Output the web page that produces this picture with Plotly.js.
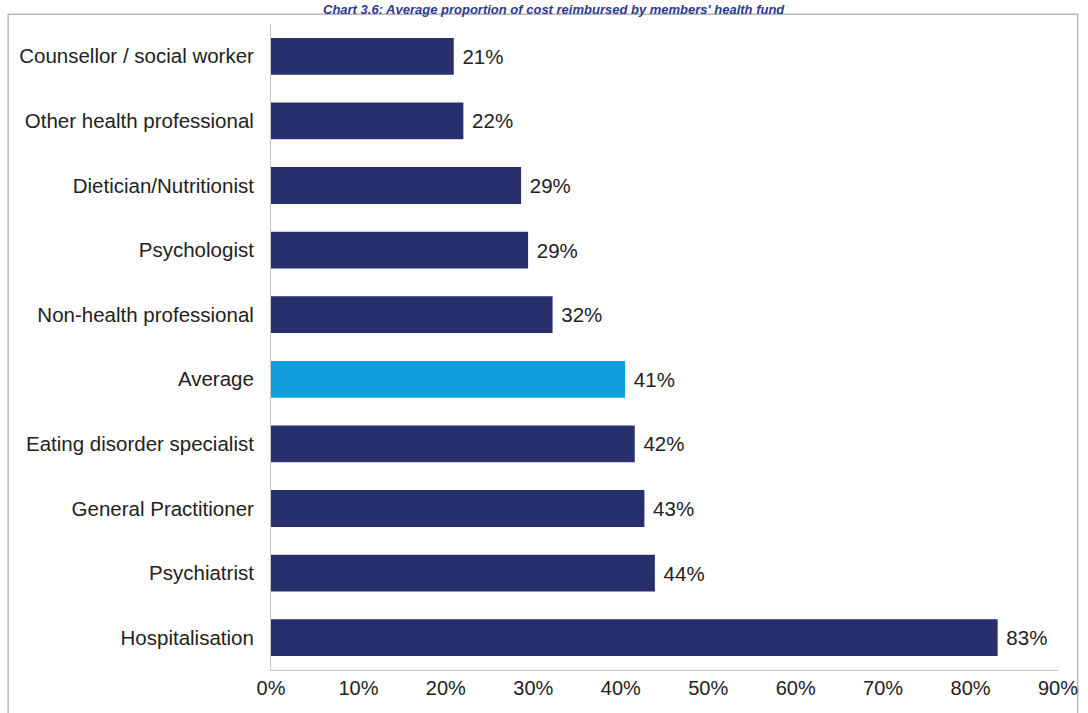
<!DOCTYPE html>
<html><head><meta charset="utf-8">
<script src="https://cdn.plot.ly/plotly-3.0.1.min.js"></script>
<style>html,body{margin:0;padding:0;background:#fff;}#chart{width:1088px;height:713px;}</style>
</head><body><div id="chart"></div>
<script>
const categories = ["Counsellor / social worker","Other health professional","Dietician/Nutritionist","Psychologist","Non-health professional","Average","Eating disorder specialist","General Practitioner","Psychiatrist","Hospitalisation"];
const values = [0.209,0.22,0.286,0.294,0.322,0.405,0.416,0.427,0.439,0.831];
const labels = ["21%","22%","29%","29%","32%","41%","42%","43%","44%","83%"];
const tickVals = [0,0.1,0.2,0.3,0.4,0.5,0.6,0.7,0.8,0.9];
const tickText = ["0%","10%","20%","30%","40%","50%","60%","70%","80%","90%"];
const navy = "#27306d", cyan = "#129fdb";
const colors = categories.map(c => c === "Average" ? cyan : navy);
const FONT = "Liberation Sans, Arial, sans-serif";
const trace = {
  type:"bar", orientation:"h", x:values, y:categories,
  marker:{color:colors, line:{width:0}}, width:0.57,
  text:labels.map(t => " " + t), textposition:"outside", cliponaxis:false,
  textfont:{family:FONT, size:20.5, color:"#222"},
  hoverinfo:"none"
};
const layout = {
  width:1088, height:713,
  margin:{l:271, r:30, t:24, b:43},
  paper_bgcolor:"#fff", plot_bgcolor:"#fff",
  showlegend:false,
  font:{family:FONT, size:20, color:"#222"},
  xaxis:{range:[0,0.9], tickvals:tickVals, ticktext:tickText, showgrid:false, zeroline:false,
    showline:true, linecolor:"#c8c8c8", linewidth:1, ticks:"", ticklen:0,
    tickfont:{size:20, color:"#222"}, fixedrange:true},
  yaxis:{autorange:"reversed", showgrid:false, zeroline:false, showline:true, linecolor:"#c8c8c8",
    linewidth:1, ticks:"", ticklabelstandoff:12, tickfont:{size:20.5, color:"#222"}, fixedrange:true},
  shapes:[{type:"rect", xref:"paper", yref:"paper", x0:-0.334, x1:1.025, y0:-0.1, y1:1.015,
    line:{color:"#b8b8b8", width:1.5}, fillcolor:"rgba(0,0,0,0)", layer:"below"}],
  annotations:[{text:"<i><b>Chart 3.6: Average proportion of cost reimbursed by members' health fund</b></i>",
    xref:"paper", yref:"paper", x:0.36, y:1.037, xanchor:"center", yanchor:"top", showarrow:false,
    font:{family:FONT, size:13, color:"#2d3a8f"}}]
};
Plotly.newPlot("chart",[trace],layout,{displayModeBar:false, staticPlot:true});
</script></body></html>
